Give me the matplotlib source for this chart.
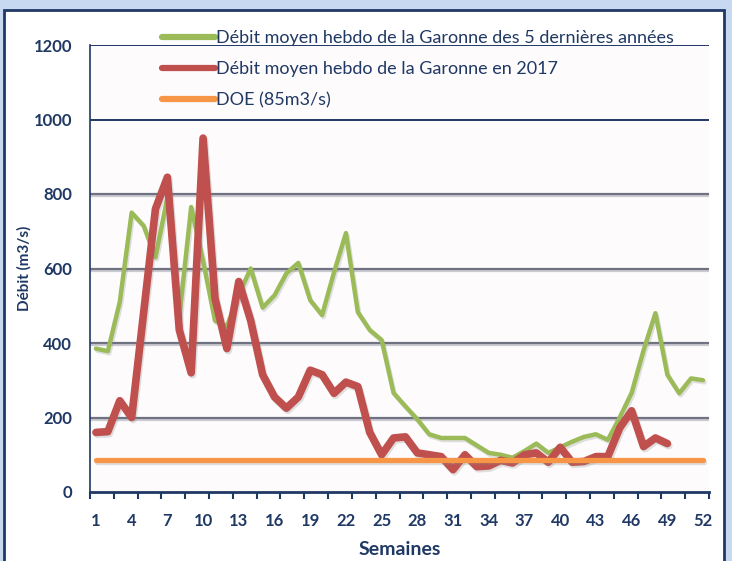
import matplotlib
matplotlib.use("Agg")
import matplotlib.pyplot as plt
import matplotlib.patheffects as pe
from matplotlib.patches import Rectangle
import numpy as np

# weekly data
weeks = list(range(1, 53))
moyenne_5ans = [385, 378, 510, 750, 715, 630, 790, 470, 765, 620,
                460, 445, 530, 600, 495, 528, 587, 615, 515, 475,
                590, 695, 483, 435, 408, 266, 230, 195, 155, 145,
                145, 145, 125, 105, 100, 92, 110, 130, 105, 120,
                135, 148, 155, 140, 200, 266, 380, 480, 315, 265,
                305, 300]
debit_2017 = [160, 162, 245, 200, 480, 760, 845, 435, 320, 950,
              520, 385, 565, 460, 315, 255, 225, 255, 327, 315,
              265, 295, 283, 160, 100, 145, 148, 105, 100, 95,
              60, 100, 68, 70, 85, 78, 100, 105, 80, 120,
              80, 82, 95, 95, 172, 218, 122, 145, 130]
doe = [85] * 52

label_5ans = "Débit moyen hebdo de la Garonne des 5 dernières années"
label_2017 = "Débit moyen hebdo de la Garonne en 2017"
label_doe = "DOE (85m3/s)"

navy = "#1f3864"
green = "#9bbb59"
red = "#c0504d"
orange = "#f79646"

plt.rcParams['font.family'] = ['Lato', 'DejaVu Sans']

fig = plt.figure(figsize=(7.32, 5.61), dpi=100)
fig.patch.set_facecolor("#c6d9f1")

# white panel with dark border
panel = Rectangle((4 / 732, -0.05), 720 / 732, 1.05 - 10 / 561,
                  transform=fig.transFigure, facecolor="white",
                  edgecolor=navy, linewidth=2, zorder=-10)
fig.patches.append(panel)

ax = fig.add_axes([90 / 732, 69 / 561, 619 / 732, 447 / 561])
ax.set_zorder(2)
ax.set_facecolor("#fdfbfc")

# horizontal grid lines
shadow = [pe.SimpleLineShadow(offset=(0, -1.5), shadow_color="#9a9aa8", alpha=0.5), pe.Normal()]
for v in [200, 400, 600, 800]:
    ax.axhline(v, color="#6f7280", lw=1.6, zorder=1, path_effects=shadow)
for v in [1000, 1200]:
    ax.axhline(v, color=navy, lw=1.4, zorder=1)

line_shadow = [pe.SimpleLineShadow(offset=(1, -1.5), shadow_color="#888888", alpha=0.25), pe.Normal()]
ax.plot(weeks, moyenne_5ans, color=green, lw=3.2, solid_capstyle="round",
        solid_joinstyle="round", label=label_5ans, zorder=3, path_effects=line_shadow)
ax.plot(weeks[:len(debit_2017)], debit_2017, color=red, lw=5.5, solid_capstyle="round",
        solid_joinstyle="round", label=label_2017, zorder=4, path_effects=line_shadow)
ax.plot(weeks, doe, color=orange, lw=3.8, solid_capstyle="round",
        label=label_doe, zorder=5, path_effects=line_shadow)

ax.set_xlim(0.5, 52.5)
ax.set_ylim(0, 1200)

ax.set_xticks(range(1, 53, 3))
ax.set_xticks(np.arange(0.5, 53, 2), minor=True)
ax.tick_params(axis="x", which="major", length=0, pad=15,
               labelsize=12, labelcolor=navy)
ax.tick_params(axis="x", which="minor", length=5, width=1.5,
               color=navy, direction="out")
ax.set_yticks(range(0, 1201, 200))
ax.tick_params(axis="y", length=0, pad=13, labelsize=12, labelcolor=navy)
for t in ax.get_xticklabels() + ax.get_yticklabels():
    t.set_fontweight("bold")

for s in ["top", "right"]:
    ax.spines[s].set_visible(False)
ax.spines["left"].set_color(navy)
ax.spines["left"].set_linewidth(1.2)
ax.spines["bottom"].set_color(navy)
ax.spines["bottom"].set_linewidth(2)

ax.set_xlabel("Semaines", fontsize=14, fontweight="bold", color=navy, labelpad=9)
ax.set_ylabel("Débit (m3/s)", fontsize=11, fontweight="bold", color=navy, labelpad=1.5)

leg = ax.legend(loc="upper left", bbox_to_anchor=(0.105, 1.05), frameon=False,
                fontsize=13, handlelength=2.9, handletextpad=0.1,
                labelspacing=0.85, borderaxespad=0)
for txt in leg.get_texts():
    txt.set_color(navy)
for h in leg.get_lines():
    h.set_linewidth(4.5)
    h.set_path_effects([])

fig.savefig("out.png", dpi=100, facecolor=fig.get_facecolor())
